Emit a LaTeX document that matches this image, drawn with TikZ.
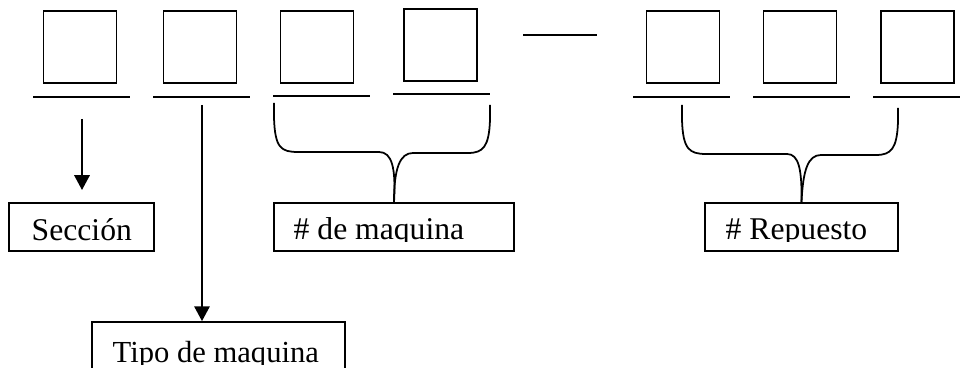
\documentclass[tikz,border=0pt]{standalone}
\usepackage{fontspec}
\setmainfont{Liberation Serif}
\usetikzlibrary{arrows.meta}

\tikzset{
  casilla/.style={draw, line width=0.5pt, minimum width=0.73cm, minimum height=0.72cm, inner sep=0pt},
  raya/.style={line width=0.45pt},
  flecha/.style={line width=0.45pt, -{Triangle[width=4.4pt,length=4.2pt]}},
  llave/.style={line width=0.5pt},
  etiqueta/.style={draw, line width=0.5pt, minimum height=0.48cm, inner sep=0pt},
  texto/.style={anchor=base west, inner sep=0pt, font=\fontsize{9}{11}\selectfont}
}

\begin{document}
\begin{tikzpicture}[x=0.01cm, y=-0.01cm]
  \clip (0,0) rectangle (960,368);
  \fill[white] (0,0) rectangle (960,368);

  % casillas del codigo
  \node[casilla] (sq1) at (80,47) {};
  \node[casilla] (sq2) at (200,47) {};
  \node[casilla] (sq3) at (317,47) {};
  \node[casilla] (sq4) at (440.5,45) {};
  \node[casilla] (sq5) at (683,47) {};
  \node[casilla] (sq6) at (800,47) {};
  \node[casilla] (sq7) at (917.5,47) {};

  % rayas bajo las casillas
  \draw[raya] (33,97) -- (130,97);
  \draw[raya] (153,97) -- (250,97);
  \draw[raya] (273,96) -- (370,96);
  \draw[raya] (393,94) -- (490,94);
  \draw[raya] (633,97) -- (730,97);
  \draw[raya] (753,97) -- (850,97);
  \draw[raya] (873,97) -- (970,97);
  \draw[raya] (523,35) -- (597,35);

  % cuadros de texto
  \node[etiqueta, minimum width=1.45cm] (secc) at (81.5,227) {};
  \node[etiqueta, minimum width=2.40cm] (maq) at (394,227) {};
  \node[etiqueta, minimum width=1.93cm] (rep) at (801.5,227) {};
  \node[etiqueta, minimum width=2.53cm, minimum height=0.6cm] (tipo) at (218.5,352) {};

  % textos, cortados por abajo
  \begin{scope}
    \clip (9,203) rectangle (154,243);
    \node[texto] (tsecc) at (31,241) {Sección};
  \end{scope}
  \begin{scope}
    \clip (273,203) rectangle (513,242);
    \node[texto] (tmaq) at (293,240) {\# de maquina};
  \end{scope}
  \begin{scope}
    \clip (705,203) rectangle (898,242);
    \node[texto] (trep) at (725,240) {\# Repuesto};
  \end{scope}
  \begin{scope}
    \clip (92,322) rectangle (345,365);
    \node[texto, font=\fontsize{8.7}{10}\selectfont] (ttipo) at (112,363) {Tipo de maquina};
  \end{scope}

  % flechas
  \coordinate (a1) at (82,119);
  \coordinate (b1) at (82,190);
  \coordinate (a2) at (202,105);
  \draw[flecha] (a1) -- (b1);
  \draw[flecha] (a2) -- (a2 |- tipo.north);

  % llave de la maquina
  \draw[llave] (274,103) -- (274,118) .. controls (275,148) and (281,152) .. (298,152)
    -- (379,152) .. controls (392,152) and (396,168) .. (maq.north);
  \draw[llave] (490,105) -- (490,120) .. controls (489,147) and (483,153) .. (468,153)
    -- (413,153) .. controls (400,153) and (394,168) .. (maq.north);

  % llave del repuesto
  \draw[llave] (682,105) -- (682,120) .. controls (683,149) and (689,154) .. (706,154)
    -- (787,154) .. controls (799,154) and (802,170) .. (rep.north);
  \draw[llave] (898,108) -- (898,122) .. controls (897,149) and (891,155) .. (876,155)
    -- (821,155) .. controls (808,155) and (803,170) .. (rep.north);
\end{tikzpicture}
\end{document}
